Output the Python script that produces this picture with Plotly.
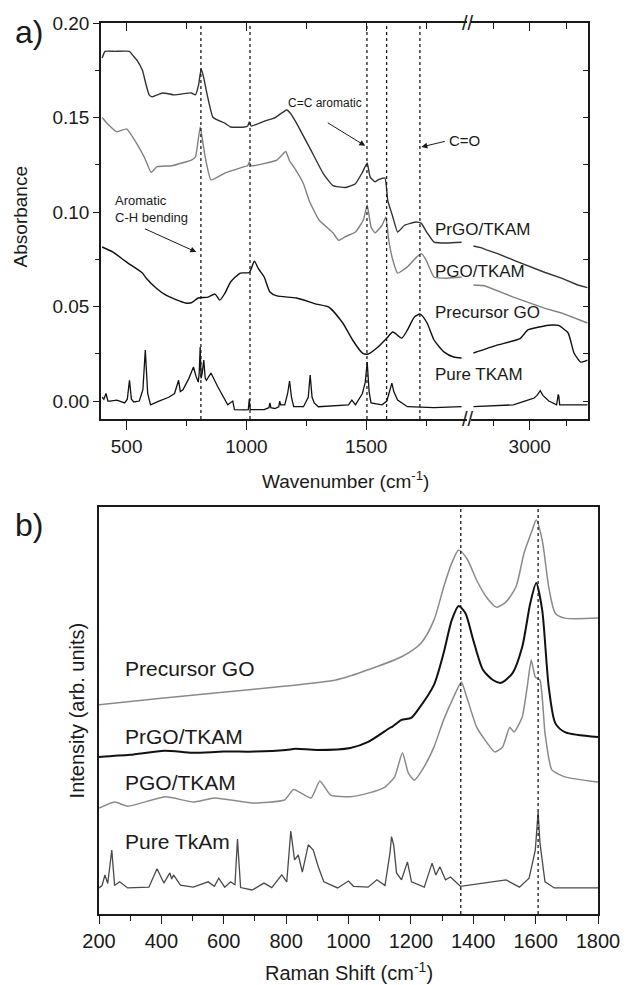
import plotly.graph_objects as go

# ---------------- FTIR (panel a) ----------------
prgo_ir_x = [398, 410, 450, 512, 525, 545, 566, 580, 594, 607, 650, 700, 770, 787, 800, 811, 822, 832, 861, 910,
             934, 992, 1005, 1012, 1020, 1074, 1120, 1168, 1185, 1209, 1262, 1320, 1361, 1414, 1455, 1484, 1504, 1516,
             1537, 1549, 1578, 1590, 1611, 1631, 1660, 1709, 1730, 1754, 1783, 1836, 1898]
prgo_ir_y = [0.1815, 0.185, 0.185, 0.185, 0.183, 0.180, 0.175, 0.168, 0.162, 0.161, 0.163, 0.162, 0.163, 0.162, 0.167,
             0.1757, 0.171, 0.1646, 0.150, 0.147, 0.145, 0.145, 0.1455, 0.1476, 0.1455, 0.148, 0.150, 0.154, 0.152,
             0.147, 0.1345, 0.1205, 0.114, 0.113, 0.115, 0.121, 0.126, 0.1186, 0.116, 0.117, 0.118, 0.106, 0.0974,
             0.0894, 0.093, 0.0947, 0.094, 0.089, 0.0841, 0.0836, 0.084]
prgo_ir_hx = [2615, 2671, 2704, 2780, 2888, 3000, 3105, 3217, 3329, 3395]
prgo_ir_hy = [0.082, 0.081, 0.080, 0.078, 0.0746, 0.071, 0.068, 0.065, 0.0614, 0.060]

pgo_ir_x = [398, 418, 459, 500, 541, 574, 602, 627, 689, 770, 787, 807, 818, 828, 852, 910, 992, 1005, 1012, 1020,
            1127, 1164, 1180, 1197, 1238, 1262, 1303, 1361, 1385, 1414, 1455, 1488, 1504, 1520, 1537, 1566, 1582,
            1594, 1611, 1631, 1672, 1709, 1730, 1750, 1783, 1836, 1898]
pgo_ir_y = [0.150, 0.147, 0.1425, 0.144, 0.1365, 0.129, 0.121, 0.124, 0.1245, 0.1275, 0.129, 0.145, 0.137, 0.129,
            0.117, 0.1206, 0.124, 0.1245, 0.1265, 0.1245, 0.1275, 0.132, 0.127, 0.124, 0.115, 0.106, 0.0958, 0.089,
            0.085, 0.087, 0.0894, 0.0958, 0.1037, 0.092, 0.089, 0.093, 0.0974, 0.085, 0.0746, 0.0677, 0.071, 0.076,
            0.078, 0.0746, 0.0656, 0.065, 0.0656]
pgo_ir_hx = [2615, 2691, 2888, 3000, 3105, 3217, 3329, 3395]
pgo_ir_hy = [0.0614, 0.061, 0.055, 0.052, 0.049, 0.0466, 0.0434, 0.0413]

go_ir_x = [398, 443, 500, 566, 582, 623, 664, 746, 770, 799, 840, 869, 889, 910, 934, 975, 1012, 1033, 1050, 1074,
           1098, 1127, 1209, 1291, 1344, 1402, 1443, 1484, 1508, 1549, 1586, 1611, 1648, 1672, 1701, 1725, 1754,
           1783, 1824, 1865, 1898]
go_ir_y = [0.0815, 0.0788, 0.0735, 0.0677, 0.065, 0.0598, 0.056, 0.0519, 0.052, 0.0545, 0.055, 0.0566, 0.0534, 0.057,
           0.063, 0.0677, 0.068, 0.074, 0.070, 0.0656, 0.0577, 0.0556, 0.0545, 0.0513, 0.0497, 0.0413, 0.0323,
           0.0254, 0.0249, 0.0286, 0.0333, 0.0365, 0.0333, 0.0376, 0.0444, 0.046, 0.0413, 0.0323, 0.026, 0.0233,
           0.0228]
go_ir_hx = [2615, 2776, 2934, 2987, 3066, 3151, 3197, 3263, 3303, 3349, 3395]
go_ir_hy = [0.0254, 0.0296, 0.033, 0.0376, 0.0392, 0.0402, 0.040, 0.036, 0.0254, 0.0206, 0.0217]

tkam_ir_x = [398, 405, 414, 422, 430, 459, 492, 503, 512, 520, 530, 553, 568, 578, 588, 600, 635, 660, 676, 700,
             717, 724, 735, 760, 779, 790, 799, 803, 807, 811, 816, 822, 828, 833, 852, 881, 922, 943, 950, 992,
             1008, 1012, 1016, 1074, 1094, 1098, 1102, 1119, 1135, 1139, 1143, 1160, 1172, 1180, 1188, 1197, 1238,
             1258, 1266, 1274, 1283, 1300, 1426, 1440, 1455, 1484, 1496, 1504, 1512, 1520, 1566, 1586, 1600, 1607,
             1615, 1631, 1672, 1783, 1898]
tkam_ir_y = [0.002, 0.001, 0.004, 0.0, 0.0, 0.0005, -0.001, 0.001, 0.011, 0.001, -0.0005, 0.0, 0.006, 0.027, 0.004,
             -0.002, 0.0, 0.001, 0.002, 0.004, 0.011, 0.005, 0.006, 0.012, 0.018, 0.013, 0.010, 0.015, 0.0286, 0.012,
             0.015, 0.0217, 0.012, 0.011, 0.0148, 0.0074, -0.002, 0.0, -0.0045, -0.0047, -0.0045, 0.001, -0.0045,
             -0.0045, -0.0035, -0.001, -0.0035, -0.004, -0.003, 0.0, -0.002, -0.002, 0.004, 0.0106, 0.002, -0.003,
             -0.003, 0.002, 0.0138, 0.002, -0.001, -0.003, -0.002, 0.0005, -0.002, 0.004, 0.010, 0.0206, 0.005,
             -0.001, -0.002, 0.0, 0.006, 0.0095, 0.005, 0.0005, -0.003, -0.0035, -0.003]
tkam_ir_hx = [2615, 2888, 3007, 3030, 3050, 3072, 3090, 3131, 3184, 3195, 3199, 3205, 3395]
tkam_ir_hy = [-0.003, -0.002, 0.001, 0.0016, 0.003, 0.0055, 0.003, 0.0, -0.002, 0.0035, 0.0026, -0.002, -0.002]

ir_marker_lines = [810, 1015, 1503, 1585, 1724]
ir_labels = ["PrGO/TKAM", "PGO/TKAM", "Precursor GO", "Pure TKAM"]
ir_label_y = [0.091, 0.0688, 0.047, 0.0143]
ir_label_x = 1779
ir_left_range = [393, 1922]
ir_right_range = [2600, 3400]
ir_y_range = [-0.0095, 0.2]
ir_y_ticks = [0.0, 0.05, 0.10, 0.15, 0.20]

# ---------------- Raman (panel b) ----------------
go_ra_x = [200, 400, 597, 800, 959, 1006, 1063, 1170, 1233, 1274, 1305, 1331, 1353, 1379, 1411, 1442, 1474, 1505,
           1537, 1563, 1589, 1602, 1621, 1642, 1663, 1694, 1800]
go_ra_y = [51.4, 53.0, 54.5, 56.0, 57.5, 58.5, 60.0, 63.2, 66.6, 72.2, 80.3, 86.2, 89.4, 87.4, 82.0, 77.9, 75.4, 76.7,
           80.4, 88.7, 94.3, 96.8, 91.9, 80.4, 73.9, 72.7, 72.7]

prgo_ra_x = [200, 300, 410, 500, 600, 700, 800, 830, 900, 1006, 1063, 1132, 1140, 1170, 1201, 1222, 1274, 1305, 1331,
             1353, 1375, 1400, 1431, 1463, 1489, 1526, 1557, 1583, 1602, 1621, 1642, 1663, 1694, 1800]
prgo_ra_y = [38.6, 39.1, 40.1, 39.6, 39.9, 39.9, 40.3, 40.6, 40.3, 40.8, 42.3, 45.7, 46.0, 47.7, 48.2, 50.1, 56.3,
             64.1, 72.2, 75.7, 73.9, 67.3, 60.0, 57.5, 56.8, 59.2, 65.6, 76.4, 81.3, 74.7, 55.8, 46.9, 44.7, 43.5]

pgo_ra_x = [200, 250, 292, 414, 502, 571, 691, 795, 824, 880, 908, 943, 1006, 1063, 1117, 1148, 1173, 1192, 1211,
            1242, 1274, 1305, 1337, 1362, 1379, 1411, 1442, 1469, 1494, 1517, 1531, 1557, 1573, 1586, 1599, 1614,
            1630, 1652, 1694, 1800]
pgo_ra_y = [26.0, 27.5, 26.5, 28.8, 27.5, 28.5, 27.3, 28.0, 30.6, 28.5, 32.7, 29.2, 28.8, 29.7, 31.2, 33.7, 39.6,
            34.6, 32.9, 36.1, 41.0, 47.7, 53.3, 57.0, 53.3, 45.9, 42.3, 39.8, 41.0, 45.9, 44.7, 48.4, 55.8, 62.4,
            58.2, 57.5, 44.5, 35.4, 33.7, 32.4]

tkam_ra_x = [200, 210, 219, 228, 241, 250, 266, 292, 360, 386, 408, 427, 433, 439, 461, 502, 550, 570, 584, 603,
             622, 636, 644, 654, 691, 729, 754, 786, 802, 815, 827, 839, 852, 871, 887, 903, 921, 943, 965, 1000,
             1016, 1063, 1091, 1117, 1133, 1138, 1145, 1154, 1170, 1189, 1202, 1243, 1268, 1280, 1293, 1311, 1327,
             1359, 1505, 1548, 1579, 1599, 1608, 1614, 1630, 1660, 1800]
tkam_ra_y = [6.4, 7.0, 9.6, 7.5, 15.7, 7.0, 7.9, 6.4, 6.6, 11.1, 7.6, 10.1, 8.6, 9.6, 7.1, 6.6, 7.9, 6.8, 8.8, 6.6,
             7.9, 7.2, 18.4, 6.5, 5.9, 7.6, 6.5, 9.6, 7.9, 20.4, 13.3, 14.5, 10.3, 17.0, 15.7, 11.6, 7.9, 7.1, 6.4,
             8.1, 6.8, 6.6, 8.4, 7.0, 15.0, 19.0, 16.9, 10.1, 8.4, 12.8, 7.9, 6.6, 12.5, 9.6, 11.6, 8.4, 9.1, 6.8,
             8.4, 6.6, 8.8, 15.7, 25.1, 17.4, 7.9, 6.4, 6.4]

ra_marker_lines = [1360, 1608]
ra_labels = ["Precursor GO", "PrGO/TKAM", "PGO/TKAM", "Pure TkAm"]
ra_label_y = [60.4, 43.5, 32.4, 17.9]
ra_label_x = 276
ra_x_range = [200, 1800]
ra_y_range = [0, 100]

FONT = "Liberation Sans, Arial, sans-serif"
INK = "#1a1a1a"

fig = go.Figure()


def add(xs, ys, xa, ya, color, width, smooth=None):
    line = dict(color=color, width=width)
    if smooth:
        line.update(shape="spline", smoothing=smooth)
    fig.add_trace(go.Scatter(x=xs, y=ys, xaxis=xa, yaxis=ya, mode="lines", line=line,
                             showlegend=False, hoverinfo="skip"))


# panel a traces
add(prgo_ir_x, prgo_ir_y, "x", "y", "#333333", 1.4, 0.4)
add(prgo_ir_hx, prgo_ir_hy, "x2", "y", "#333333", 1.4)
add(pgo_ir_x, pgo_ir_y, "x", "y", "#808080", 1.4, 0.4)
add(pgo_ir_hx, pgo_ir_hy, "x2", "y", "#808080", 1.4)
add(go_ir_x, go_ir_y, "x", "y", "#111111", 1.4, 0.6)
add(go_ir_hx, go_ir_hy, "x2", "y", "#111111", 1.4, 0.5)
add(tkam_ir_x, tkam_ir_y, "x", "y", "#111111", 1.3)
add(tkam_ir_hx, tkam_ir_hy, "x2", "y", "#111111", 1.3)
# empty traces so the overlay frame axes (top / right ticks) are drawn
add([None], [None], "x3", "y", "#000", 1)
add([None], [None], "x4", "y", "#000", 1)
add([None], [None], "x2", "y2", "#000", 1)

# panel b traces
add(go_ra_x, go_ra_y, "x5", "y3", "#8a8a8a", 1.5, 0.7)
add(prgo_ra_x, prgo_ra_y, "x5", "y3", "#111111", 2.0, 0.7)
add(pgo_ra_x, pgo_ra_y, "x5", "y3", "#8a8a8a", 1.5, 0.5)
add(tkam_ra_x, tkam_ra_y, "x5", "y3", "#4a4a4a", 1.3)

W, H = 632, 985
ML, MR, MT, MB = 99, 25, 23, 71
PW = W - ML - MR
PH = H - MT - MB


def px(v):  # screen pixel -> paper x
    return (v - ML) / PW


def py(v):  # screen pixel -> paper y
    return (H - MB - v) / PH


top_dom = [py(419), 1.0]
bot_dom = [0.0, py(507)]
left_dom = [px(101), px(474)]
right_dom = [px(478), px(597)]

axline = dict(showline=True, linecolor=INK, linewidth=1.5, showgrid=False, zeroline=False,
              tickcolor=INK, tickwidth=1.3, tickfont=dict(family=FONT, size=19, color=INK),
              ticklabeloverflow="allow")

fig.update_layout(
    width=W, height=H, autosize=False, margin=dict(l=ML, r=MR, t=MT, b=MB),
    paper_bgcolor="white", plot_bgcolor="white", showlegend=False,
    font=dict(family=FONT, color=INK),
    xaxis=dict(domain=left_dom, range=ir_left_range, anchor="y", ticks="outside", ticklen=9,
               tickvals=[500, 1000, 1500],
               minor=dict(tickvals=[750, 1250, 1750], ticks="outside", ticklen=5, tickcolor=INK, tickwidth=1.3,
                          showgrid=False),
               **axline),
    xaxis2=dict(domain=right_dom, range=ir_right_range, anchor="y", ticks="outside", ticklen=9,
                tickvals=[3000],
                minor=dict(tickvals=[2750, 3250], ticks="outside", ticklen=5, tickcolor=INK, tickwidth=1.3,
                           showgrid=False),
                **axline),
    xaxis3=dict(overlaying="x", side="top", anchor="y", range=ir_left_range, ticks="inside", ticklen=8,
                tickvals=[500, 1000, 1500], showticklabels=False,
                minor=dict(tickvals=[750, 1250, 1750], ticks="inside", ticklen=6, tickcolor=INK, tickwidth=1.3,
                           showgrid=False),
                **axline),
    xaxis4=dict(overlaying="x2", side="top", anchor="y", range=ir_right_range, ticks="inside", ticklen=8,
                tickvals=[3000], showticklabels=False,
                minor=dict(tickvals=[2750, 3250], ticks="inside", ticklen=6, tickcolor=INK, tickwidth=1.3,
                           showgrid=False),
                **axline),
    yaxis=dict(domain=top_dom, range=ir_y_range, anchor="x", ticks="outside", ticklen=6,
               tickvals=ir_y_ticks, ticktext=["%.2f" % v for v in ir_y_ticks],
               minor=dict(dtick=0.025, tick0=0, ticks="outside", ticklen=4, tickcolor=INK, tickwidth=1.3,
                          showgrid=False),
               **axline),
    yaxis2=dict(overlaying="y", side="right", anchor="x2", range=ir_y_range, ticks="inside", ticklen=5,
                dtick=0.025, tick0=0, showticklabels=False, **axline),
    xaxis5=dict(domain=[0, 1], range=ra_x_range, anchor="y3", ticks="outside", ticklen=8, dtick=200, tick0=200,
                mirror=True,
                minor=dict(dtick=100, tick0=200, ticks="outside", ticklen=5, tickcolor=INK, tickwidth=1.3,
                           showgrid=False),
                **{**axline, "tickfont": dict(family=FONT, size=20, color=INK)}),
    yaxis3=dict(domain=bot_dom, range=ra_y_range, anchor="x5", ticks="", showticklabels=False, mirror=True,
                **axline),
)

# dotted marker lines
for v in ir_marker_lines:
    fig.add_shape(type="line", xref="x", yref="y domain", x0=v, x1=v, y0=0, y1=1,
                  line=dict(color=INK, width=1.3, dash="dot"))
for v in ra_marker_lines:
    fig.add_shape(type="line", xref="x5", yref="y3 domain", x0=v, x1=v, y0=0, y1=1,
                  line=dict(color=INK, width=1.3, dash="dot"))

ann = []
# series labels
for t, yv in zip(ir_labels, ir_label_y):
    ann.append(dict(x=ir_label_x, y=yv, xref="x", yref="y", text=t, showarrow=False, xanchor="left",
                    yanchor="middle", font=dict(family=FONT, size=17, color=INK)))
for t, yv in zip(ra_labels, ra_label_y):
    ann.append(dict(x=ra_label_x, y=yv, xref="x5", yref="y3", text=t, showarrow=False, xanchor="left",
                    yanchor="middle", font=dict(family=FONT, size=21, color=INK)))

# peak annotations
ann.append(dict(x=443, y=0.1016, xref="x", yref="y", text="Aromatic<br>C-H bending", showarrow=False,
                xanchor="left", yanchor="middle", align="left", font=dict(family=FONT, size=13, color=INK)))
ann.append(dict(x=791, y=0.0788, xref="x", yref="y", text="", showarrow=True, ax=-53, ay=-24,
                arrowhead=2, arrowsize=1.2, arrowwidth=1, arrowcolor=INK))
ann.append(dict(x=1328, y=0.1577, xref="x", yref="y", text="C=C aromatic", showarrow=False,
                xanchor="center", yanchor="middle", font=dict(family=FONT, size=12, color=INK)))
ann.append(dict(x=1496, y=0.135, xref="x", yref="y", text="", showarrow=True, ax=-39, ay=-24,
                arrowhead=2, arrowsize=1.2, arrowwidth=1, arrowcolor=INK))
ann.append(dict(x=1836, y=0.1376, xref="x", yref="y", text="C=O", showarrow=False,
                xanchor="left", yanchor="middle", font=dict(family=FONT, size=15, color=INK)))
ann.append(dict(x=1730, y=0.1344, xref="x", yref="y", text="", showarrow=True, ax=25, ay=-6,
                arrowhead=2, arrowsize=1.2, arrowwidth=1, arrowcolor=INK))

# axis break marks
for yy in [py(419), 1.0]:
    ann.append(dict(x=px(475), y=yy, xref="paper", yref="paper", text="//", showarrow=False,
                    xanchor="center", yanchor="middle", font=dict(family=FONT, size=20, color=INK)))

# panel letters and axis titles
ann.append(dict(x=px(28), y=py(32), xref="paper", yref="paper", text="a)", showarrow=False,
                xanchor="center", yanchor="middle", font=dict(family=FONT, size=32, color=INK)))
ann.append(dict(x=px(28), y=py(525), xref="paper", yref="paper", text="b)", showarrow=False,
                xanchor="center", yanchor="middle", font=dict(family=FONT, size=32, color=INK)))
ann.append(dict(x=px(19), y=py(217), xref="paper", yref="paper", text="Absorbance", showarrow=False,
                textangle=-90, xanchor="center", yanchor="middle", font=dict(family=FONT, size=19, color=INK)))
ann.append(dict(x=px(350), y=py(480), xref="paper", yref="paper", text="Wavenumber (cm<sup>-1</sup>)",
                showarrow=False, xanchor="center", yanchor="middle", font=dict(family=FONT, size=19, color=INK)))
ann.append(dict(x=px(77), y=py(710), xref="paper", yref="paper", text="Intensity (arb. units)", showarrow=False,
                textangle=-90, xanchor="center", yanchor="middle", font=dict(family=FONT, size=20, color=INK)))
ann.append(dict(x=px(354), y=py(971), xref="paper", yref="paper", text="Raman Shift (cm<sup>-1</sup>)",
                showarrow=False, xanchor="center", yanchor="middle", font=dict(family=FONT, size=20, color=INK)))

fig.update_layout(annotations=ann)
# remove the browser's default 8 px page margin so the figure fills the window exactly
fig.write_html("out.html", config={"displayModeBar": False, "responsive": False},
               post_script="document.body.style.margin='0px';")
